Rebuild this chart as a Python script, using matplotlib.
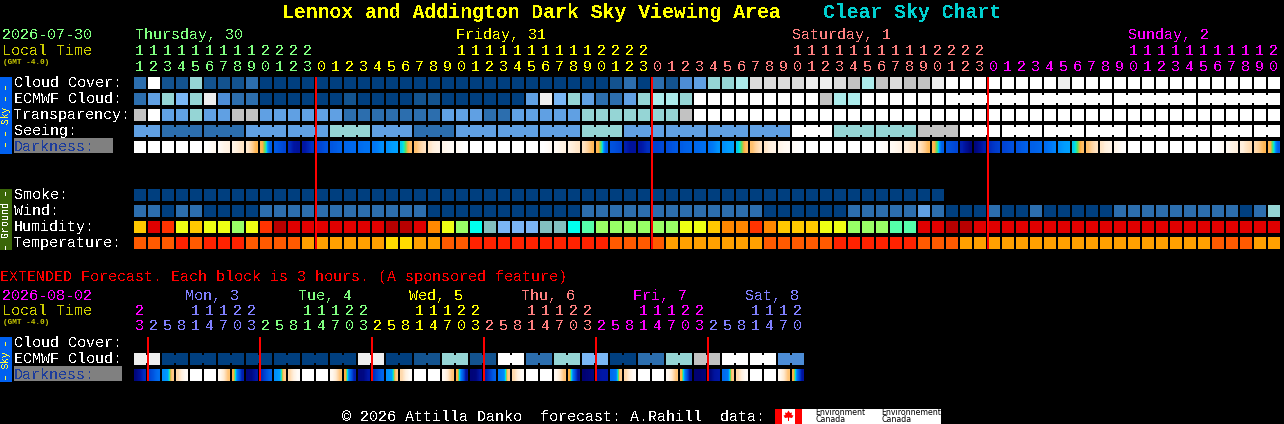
import matplotlib
matplotlib.use("Agg")
import matplotlib.pyplot as plt
from matplotlib.colors import LinearSegmentedColormap
from matplotlib.patches import Polygon

# ---------- colour scales ----------
cloud_colors = ["#003f7f", "#13538f", "#2c6eae", "#4d8dd6", "#60a0e3", "#7ab7f5",
                "#95d5d5", "#acebeb", "#c2c2c2", "#dcdcdc", "#eeeeee", "#ffffff"]
humid_colors = ["#b80000", "#e00000", "#ff3300", "#ff8800", "#ffc800", "#eeff14",
                "#98ff66", "#55ffaa", "#00ffee", "#82bfbf", "#7ab5f5"]
temp_colors = ["#ff2200", "#ff5a00", "#ffa000", "#ffdc00"]
dark_stops = [(0.0, "#00006e"), (0.1, "#0018a8"), (0.2, "#0040d0"), (0.3, "#0060e8"),
              (0.4, "#0078f5"), (0.5, "#00a0ff"), (0.58, "#00e8e0"), (0.64, "#60e060"),
              (0.7, "#ffb040"), (0.8, "#ffd098"), (0.9, "#ffeeda"), (1.0, "#ffffff")]

# ---------- main forecast, one value per hour ----------
hours = [11, 12, 13, 14, 15, 16, 17, 18, 19, 20, 21, 22, 23,
         0, 1, 2, 3, 4, 5, 6, 7, 8, 9, 10, 11, 12, 13, 14, 15, 16, 17, 18, 19, 20, 21, 22, 23,
         0, 1, 2, 3, 4, 5, 6, 7, 8, 9, 10, 11, 12, 13, 14, 15, 16, 17, 18, 19, 20, 21, 22, 23,
         0, 1, 2, 3, 4, 5, 6, 7, 8, 9, 10, 11, 12, 13, 14, 15, 16, 17, 18, 19, 20]
hour_days = [0] * 13 + [1] * 24 + [2] * 24 + [3] * 21
day_labels = ["Thursday, 30", "Friday, 31", "Saturday, 1", "Sunday, 2"]
day_label_x = [135, 456, 792, 1128]
day_colors = ["#80ff80", "#ffff00", "#ff8080", "#ff00ff"]

cloud = [2, 11, 1, 1, 6, 1, 1, 1, 2, 0, 0, 0, 0, 0, 0, 0, 0, 0, 0, 0, 0, 0,
         0, 0, 0, 0, 0, 0, 0, 0, 0, 0, 0, 0, 1, 2, 0, 2, 1, 3, 4, 6, 6, 7,
         9, 9, 9, 9, 10, 10, 9, 8, 7, 8, 9, 8, 8, 10,
         11, 11, 11, 11, 11, 11, 11, 11, 10, 11, 11, 11, 11, 11, 11, 11, 11, 11, 11, 11, 11, 11, 11, 11]
ecmwf = [2, 4, 6, 5, 6, 10, 3, 2, 2, 0, 0, 0, 0, 0, 0, 1, 0, 0, 0, 0, 1, 1,
         0, 0, 0, 0, 0, 0, 4, 10, 5, 6, 4, 2, 2, 4, 6, 7, 7, 6,
         11, 11, 11, 11, 11, 11, 11, 11, 11, 8, 7, 7, 11, 11, 11, 11, 11, 11,
         11, 11, 11, 11, 11, 11, 11, 11, 11, 11, 11, 11, 11, 11, 11, 11, 11, 11, 11, 11, 11, 11, 11, 11]
ecmwf_groups = [6] * 4
transparency = [8, 11, 4, 4, 6, 4, 4, 8, 8, 4, 4, 4, 4, 4, 4, 2, 2, 2, 2, 2, 2, 2,
                4, 4, 4, 2, 2, 4, 4, 4, 4, 4, 6, 6, 6, 6, 6, 6, 6, 8,
                11, 11, 11, 11, 11, 11, 11, 11, 11, 11, 11, 11, 11, 11, 11, 11, 11, 11,
                11, 11, 11, 11, 11, 11, 11, 11, 11, 11, 11, 11, 11, 11, 11, 11, 11, 11, 11, 11, 11, 11, 11, 11]
seeing = [4, 4, 2, 2, 2, 2, 2, 2, 4, 4, 4, 4, 4, 4, 6, 6, 6, 4, 4, 4, 2, 2, 2,
          4, 4, 4, 4, 4, 4, 4, 4, 4, 6, 6, 6, 4, 4, 4, 4, 4, 4, 4, 4, 4, 4, 4, 4,
          11, 11, 11, 6, 6, 6, 6, 6, 6, 8, 8, 8,
          11, 11, 11, 11, 11, 11, 11, 11, 11, 11, 11, 11, 11, 11, 11, 11, 11, 11, 11, 11, 11, 11, 11]
seeing_groups = [2] + [3] * 26 + [2]
darkness = [
    (10, 10, 10), (10, 10, 10), (10, 10, 10), (10, 10, 10), (10, 10, 10),
    (10, 9.8, 9.6), (9.7, 9.4, 9.2), (9.3, 8.9, 8.7), (8.8, 8, 7.2), (7.2, 6, 3),
    (2.8, 2.5, 2.2), (1.5, 0.9, 0.8), (0.9, 1.3, 1.7), (2, 2.3, 2.6), (2.7, 2.9, 3.1),
    (3.2, 3.3, 3.4), (3.5, 3.7, 3.8), (3.9, 4.2, 4.6), (4.6, 4.9, 5), (5.5, 6.5, 7.4),
    (7.5, 8.1, 8.6), (8.7, 9.1, 9.3), (9.4, 9.6, 9.7), (9.7, 9.9, 10),
    (10, 10, 10), (10, 10, 10), (10, 10, 10), (10, 10, 10), (10, 10, 10),
    (10, 9.9, 9.7), (9.7, 9.4, 9.2), (9.2, 8.9, 8.7), (8.6, 8, 7.3), (7.2, 6, 3),
    (2.6, 2.4, 2.2), (1.2, 0.8, 0.8), (0.9, 1.2, 1.6), (2, 2.1, 2.3), (2.4, 2.6, 2.8),
    (2.9, 3.1, 3.2), (3.3, 3.5, 3.7), (3.8, 4.2, 4.7), (4.6, 4.9, 5), (5.5, 6.5, 7.4),
    (7.5, 8.1, 8.6), (8.7, 9.1, 9.3), (9.4, 9.6, 9.7), (9.8, 9.9, 10),
    (10, 10, 10), (10, 10, 10), (10, 10, 10), (10, 10, 10), (10, 10, 10),
    (10, 9.9, 9.8), (9.7, 9.5, 9.3), (9.1, 8.8, 8.6), (8.6, 8, 7.3), (7.2, 6, 3),
    (2.6, 2.4, 2.2), (1.2, 0.7, 0.3), (0.3, 0.7, 1.2), (1.5, 1.8, 2), (2.1, 2.3, 2.5),
    (2.6, 2.8, 3), (3, 3.1, 3.3), (3.5, 3.9, 4.3), (4.6, 4.9, 5), (5.5, 6.5, 7.4),
    (7.5, 8.1, 8.6), (8.7, 9.1, 9.3), (9.4, 9.7, 9.9),
    (10, 10, 10), (10, 10, 10), (10, 10, 10), (10, 10, 10), (10, 10, 10), (10, 10, 10),
    (10, 9.9, 9.7), (9.6, 9.3, 9.1), (9.1, 8.7, 8.4), (8.3, 7.8, 7.2), (7.2, 5.8, 3),
]
smoke = [0] * 58
wind = [2, 2, 0, 2, 2, 0, 0, 0, 0, 2, 2, 2, 2, 2, 2, 2, 2, 2, 2, 2, 2,
        0, 0, 0, 0, 0, 0, 0, 0, 0, 0, 0,
        2, 2, 2, 2, 2, 2, 2, 2, 2, 2, 2, 2, 2,
        0, 0, 0, 0, 0, 0, 2, 2, 2, 2, 2, 4, 2, 0, 0, 0, 2, 0, 0, 2, 0, 0, 0, 0, 0,
        2, 2, 2, 2, 2, 2, 2, 2, 2, 0, 2, 6]
humidity = [4, 1, 2, 5, 4, 5, 5, 6, 5, 2, 0, 1, 1, 1, 1, 1, 1, 1, 0, 0, 1, 3,
            5, 6, 8, 9, 10, 10, 10, 9, 9, 8, 7, 6, 6, 6, 6, 6, 6, 5, 5, 4, 3, 3, 2, 3, 4, 4, 4, 5, 5, 6,
            6, 6, 7, 7, 1, 1, 0, 0, 1, 1, 1, 1, 1, 1, 1, 1, 1, 1, 1, 1, 1, 1, 1, 1, 1, 1, 1, 1, 1, 1]
temperature = [1, 1, 1, 0, 1, 0, 0, 0, 1, 1, 1, 1, 2, 2, 2, 2, 2, 2, 3, 3, 2, 2,
               1, 1, 0, 0, 0, 0, 0, 0, 0, 0, 0, 0, 1, 1, 1, 1, 2, 2, 2, 2, 2, 2, 2,
               1, 1, 1, 1, 1, 0, 0, 0, 0, 0, 0, 1, 1, 1, 2, 2,
               2, 2, 2, 2, 2, 2, 2, 2, 2, 2, 2, 2, 2, 2, 2, 2, 1, 1, 1, 2, 2]
midnight_hours = [13, 37, 61]

# ---------- extended forecast, one value per 3 hours ----------
ext_hours = [23,
             2, 5, 8, 11, 14, 17, 20, 23, 2, 5, 8, 11, 14, 17, 20, 23,
             2, 5, 8, 11, 14, 17, 20, 23, 2, 5, 8, 11, 14, 17, 20, 23,
             2, 5, 8, 11, 14, 17, 20, 23, 2, 5, 8, 11, 14, 17, 20]
ext_days = [0] + [1] * 8 + [2] * 8 + [3] * 8 + [4] * 8 + [5] * 8 + [6] * 7
ext_day_colors = ["#ff00ff", "#8080ff", "#80ff80", "#ffff00", "#ff8080", "#ff00ff", "#8080ff"]
ext_day_labels = ["Mon, 3", "Tue, 4", "Wed, 5", "Thu, 6", "Fri, 7", "Sat, 8"]
ext_day_x = [185, 298, 409, 521, 633, 745]
ext_ecmwf = [10, 10, 0, 0, 0, 0, 0, 0, 0, 0, 0, 0, 0, 0, 0, 0, 10, 10, 0, 0, 1, 1, 6, 6,
             1, 1, 11, 11, 2, 2, 6, 6, 5, 5, 0, 0, 2, 2, 6, 6, 8, 8, 11, 11, 11, 11, 3, 3]
ext_darkness = [
    (0.3, 0.8, 1.6), (2.2, 2.8, 3.6), (4.6, 5, 7.8), (8.3, 9.2, 9.8), (10, 10, 10), (10, 10, 10),
    (9.6, 8.8, 7.6), (7, 3.5, 1.2),
    (0.3, 0.4, 1.0), (1.6, 2.4, 3.2), (4.6, 5, 7.8), (8.3, 9.2, 9.8), (10, 10, 10), (10, 10, 10),
    (9.6, 8.8, 7.6), (7, 3.5, 1.2),
    (0.3, 0.4, 1.0), (1.6, 2.4, 3.2), (4.6, 5, 7.8), (8.3, 9.2, 9.8), (10, 10, 10), (10, 10, 10),
    (9.6, 8.8, 7.6), (7, 3.5, 0.8),
    (0.2, 0.3, 1.0), (1.2, 2, 3), (4, 4.5, 7.8), (8.3, 9.2, 9.8), (10, 10, 10), (10, 10, 10),
    (9.6, 8.8, 7.6), (7, 3.2, 0.8),
    (0.1, 0.2, 0.3), (0.8, 1, 1), (3.5, 4, 7.8), (8.3, 9.2, 9.8), (10, 10, 10), (10, 10, 10),
    (9.6, 8.8, 7.6), (7, 3.2, 0.6),
    (0.1, 0.1, 0.2), (0.2, 0.8, 1), (3.5, 4, 7.8), (8.3, 9.2, 9.8), (10, 10, 10), (10, 10, 10),
    (9.6, 8.8, 7.6), (7, 3.2, 0.8),
]
ext_midnights = [1, 9, 17, 25, 33, 41]

main_labels = ["Cloud Cover:", "ECMWF Cloud:", "Transparency:", "Seeing:"]
ground_labels = ["Smoke:", "Wind:", "Humidity:", "Temperature:"]

# ---------- layout ----------
X0, PITCH, SIZE = 134, 14, 12
MONO = "Liberation Mono"
FS = 10.8

fig = plt.figure(figsize=(12.84, 4.24), dpi=100, facecolor="black")
ax = fig.add_axes([0, 0, 1, 1], facecolor="black")
ax.set_xlim(0, 1284)
ax.set_ylim(424, 0)
ax.axis("off")
ax.set_autoscale_on(False)
cmap = LinearSegmentedColormap.from_list("dark", dark_stops)


def txt(x, y, s, color="white", size=FS, aa=False, **kw):
    kw.setdefault("family", MONO)
    ax.text(x, y + (0 if aa else 0.8), s, color=color, fontsize=size, va="center",
            ha=kw.pop("ha", "left"), antialiased=aa, **kw)


def rect(x, y, w, h, color, z=2):
    ax.bar(x, h, w, y, color=color, align="edge", linewidth=0, antialiased=False, zorder=z)


def row(values, top, palette, groups=None, start=0):
    xs = [X0 + PITCH * i for i in range(len(values))]
    ax.bar(xs, SIZE, SIZE, top, color=[palette[v] for v in values], align="edge",
           linewidth=0, antialiased=False, zorder=2)
    if groups:
        pos = start
        for g in groups:
            for k in range(pos, min(pos + g - 1, len(values) - 1)):
                rect(X0 + PITCH * k + SIZE, top + 2, PITCH - SIZE, SIZE - 4, palette[values[k]])
            pos += g


def dark_row(values, top):
    for i, v in enumerate(values):
        x = X0 + PITCH * i
        ax.imshow([list(v)], cmap=cmap, vmin=0, vmax=10, extent=(x, x + SIZE, top + SIZE, top),
                  aspect="auto", interpolation="bilinear", zorder=2)


# ---------- title ----------
txt(282, 11.5, "Lennox and Addington Dark Sky Viewing Area", "#ffff00", 14.2, weight="bold")
txt(823, 11.5, "Clear Sky Chart", "#00d0d0", 14.2, weight="bold")

# ---------- main header ----------
txt(2, 34, "2026-07-30", "#80ff80")
txt(2, 50, "Local Time", "#cccc00")
txt(3, 62, "(GMT -4.0)", "#cccc00", 5.6, aa=True, weight="bold")
for s, x, c in zip(day_labels, day_label_x, day_colors):
    txt(x, 34, s, c)
for i, (h, d) in enumerate(zip(hours, hour_days)):
    cx = X0 + PITCH * i + 5.5
    if h >= 10:
        txt(cx, 50, str(h // 10), day_colors[d], ha="center")
    txt(cx, 66, str(h % 10), day_colors[d], ha="center")

# ---------- main rows ----------
for lab, y in zip(main_labels, [82, 98, 114, 130]):
    txt(14, y, lab)
rect(14, 138, 99, 15, "#808080", 1)
txt(14, 146, "Darkness:", "#1c3c9c")
row(cloud, 77, cloud_colors)
row(ecmwf, 93, cloud_colors, ecmwf_groups, start=58)
row(transparency, 109, cloud_colors)
row(seeing, 125, cloud_colors, seeing_groups)
dark_row(darkness, 141)

for lab, y in zip(ground_labels, [194, 210, 226, 242]):
    txt(14, y, lab)
row(smoke, 189, cloud_colors)
row(wind, 205, cloud_colors)
row(humidity, 221, humid_colors)
row(temperature, 237, temp_colors)

for i in midnight_hours:
    rect(X0 + PITCH * i - 1, 77, 2, 172, "#ff0000", 4)

# ---------- side bars ----------
rect(0, 77, 12, 77, "#0060f0", 1)
txt(6.2, 115, "\u2013 \u2013 Sky \u2013 \u2013", "#ffff40", 6.9, rotation=90, ha="center")
rect(0, 189, 12, 61, "#3a6608", 1)
txt(6.2, 219, "\u2013 Ground \u2013", "#ffffff", 7.2, rotation=90, ha="center")
rect(0, 337, 12, 45, "#0060f0", 1)
txt(6.2, 359, "\u2013 Sky \u2013", "#ffff40", 6.9, rotation=90, ha="center")

# ---------- extended forecast ----------
txt(0, 276, "EXTENDED Forecast. Each block is 3 hours. (A sponsored feature)", "#ff0000")
txt(2, 295, "2026-08-02", "#ff00ff")
txt(2, 310, "Local Time", "#cccc00")
txt(3, 322, "(GMT -4.0)", "#cccc00", 5.6, aa=True, weight="bold")
for s, x, c in zip(ext_day_labels, ext_day_x, ext_day_colors[1:]):
    txt(x, 295, s, c)
for i, (h, d) in enumerate(zip(ext_hours, ext_days)):
    cx = X0 + PITCH * i + 5.5
    if h >= 10:
        txt(cx, 310, str(h // 10), ext_day_colors[d], ha="center")
    txt(cx, 325, str(h % 10), ext_day_colors[d], ha="center")
txt(14, 342, "Cloud Cover:")
txt(14, 358, "ECMWF Cloud:")
rect(14, 366, 108, 15, "#808080", 1)
txt(14, 374, "Darkness:", "#1c3c9c")
row(ext_ecmwf, 353, cloud_colors, [2] * 24)
dark_row(ext_darkness, 369)
for i in ext_midnights:
    rect(X0 + PITCH * i - 1, 337, 2, 44, "#ff0000", 4)

# ---------- footer ----------
txt(342, 416, "\u00a9 2026 Attilla Danko  forecast: A.Rahill  data:")
rect(775, 409, 166, 15, "#ffffff", 1)
rect(775, 409, 7, 15, "#ff0000")
rect(795, 409, 7, 15, "#ff0000")
ax.add_patch(Polygon([(788.5, 410.5), (790, 413), (792, 412.5), (791.5, 415), (793.5, 415.5),
                      (792, 418), (789, 417.5), (789, 421), (788, 421), (788, 417.5),
                      (785, 418), (783.5, 415.5), (785.5, 415), (785, 412.5), (787, 413)],
                     closed=True, color="#ff0000", linewidth=0, zorder=3))
for x, a in zip([815, 881], ["Environment", "Environnement"]):
    txt(x, 412.5, a, "#000000", 5.7, aa=True, family="DejaVu Sans", zorder=3)
    txt(x, 420, "Canada", "#000000", 5.7, aa=True, family="DejaVu Sans", zorder=3)

fig.savefig("out.png", dpi=100, facecolor="black")
